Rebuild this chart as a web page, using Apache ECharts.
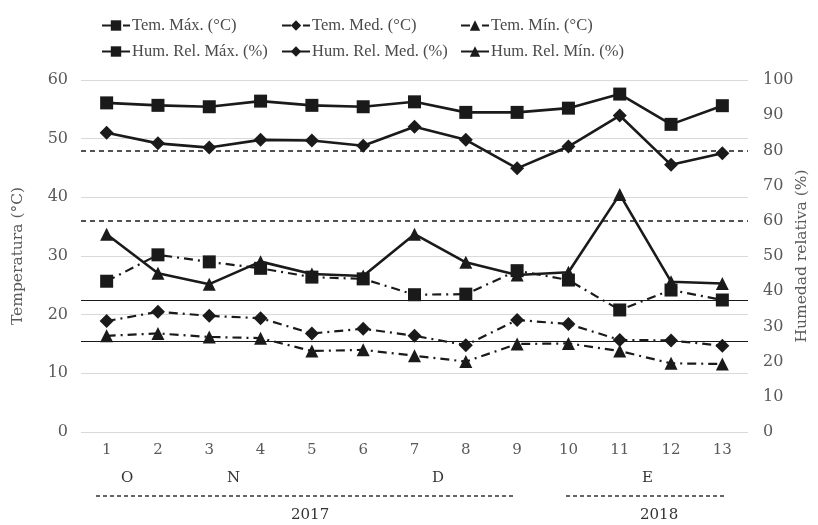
<!DOCTYPE html>
<html>
<head>
<meta charset="utf-8">
<script src="https://cdn.jsdelivr.net/npm/echarts@6/dist/echarts.min.js"></script>
<style>html,body{margin:0;padding:0;background:#fff}#c{width:818px;height:525px}</style>
</head>
<body>
<div id="c"></div>
<script>
const categories = ['1','2','3','4','5','6','7','8','9','10','11','12','13'];
const temMax = [25.7,30.2,29.0,27.9,26.4,26.1,23.4,23.5,27.5,25.9,20.8,24.2,22.5];
const temMed = [18.9,20.5,19.8,19.4,16.8,17.6,16.4,14.8,19.1,18.4,15.7,15.6,14.7];
const temMin = [16.4,16.8,16.2,16.0,13.8,14.0,13.0,12.0,15.0,15.1,13.8,11.7,11.6];
const humMax = [93.5,92.8,92.4,94.0,92.8,92.4,93.8,90.8,90.8,92.0,96.0,87.4,92.7];
const humMed = [85.0,82.0,80.8,83.0,82.8,81.3,86.7,83.0,74.9,81.1,89.9,75.9,79.2];
const humMin = [56.2,45.1,42.0,48.4,44.9,44.3,56.2,48.2,44.6,45.4,67.5,42.7,42.2];
const tempThresholds = [22.4, 15.5];
const humThresholds = [80, 60];
const seriesNames = ['Tem. Máx. (°C)','Tem. Med. (°C)','Tem. Mín. (°C)','Hum. Rel. Máx. (%)','Hum. Rel. Med. (%)','Hum. Rel. Mín. (%)'];
const monthLabels = ['O','N','D','E'];
const yearLabels = ['2017','2018'];

const SERIF = "'DejaVu Serif', serif";
const LSERIF = "'Liberation Serif', serif";
const INK = '#1a1a1a';
const dashDot = [9,5,2,5];

function mk(name, data, yIdx, symbol, size, dashed) {
  return {
    name, type: 'line', data, yAxisIndex: yIdx,
    symbol, symbolSize: size,
    lineStyle: { color: INK, width: dashed ? 2.2 : 2.6, type: dashed ? dashDot : 'solid' },
    itemStyle: { color: INK },
    animation: false
  };
}

const series = [
  mk(seriesNames[0], temMax, 0, 'rect', 13, true),
  mk(seriesNames[1], temMed, 0, 'diamond', 14, true),
  mk(seriesNames[2], temMin, 0, 'triangle', 13, true),
  mk(seriesNames[3], humMax, 1, 'rect', 13, false),
  mk(seriesNames[4], humMed, 1, 'diamond', 14, false),
  mk(seriesNames[5], humMin, 1, 'triangle', 13, false)
];
series[0].markLine = {
  silent: true, symbol: 'none', label: { show: false }, animation: false,
  lineStyle: { color: INK, width: 1.2, type: 'solid' },
  data: tempThresholds.map(v => ({ yAxis: v }))
};
series[3].markLine = {
  silent: true, symbol: 'none', label: { show: false }, animation: false,
  lineStyle: { color: INK, width: 1.5, type: [5,4] },
  data: humThresholds.map(v => ({ yAxis: v }))
};

const legendPos = [[96,12],[276,12],[455,12],[96,38],[276,38],[455,38]];
const legends = seriesNames.map((n, i) => ({
  data: [n], left: legendPos[i][0], top: legendPos[i][1],
  itemWidth: 28, itemHeight: 13, itemGap: 4,
  textStyle: { fontFamily: LSERIF, fontSize: 16.5, color: '#4a4a4a', padding: [0,0,0,-3] }
}));

const chart = echarts.init(document.getElementById('c'));
chart.setOption({
  backgroundColor: '#fff',
  animation: false,
  legend: legends,
  grid: { left: 81, right: 70, top: 80, bottom: 93, containLabel: false, outerBoundsMode: 'none' },
  xAxis: {
    type: 'category', data: categories, boundaryGap: true,
    axisLine: { show: false }, axisTick: { show: false },
    axisLabel: { fontFamily: SERIF, fontSize: 15, color: '#595959', margin: 11 }
  },
  yAxis: [
    {
      type: 'value', min: 0, max: 60, interval: 10,
      name: 'Temperatura (°C)', nameLocation: 'middle', nameGap: 55, nameRotate: 90,
      nameMoveOverlap: false,
      nameTextStyle: { fontFamily: SERIF, fontSize: 15.5, color: '#595959' },
      axisLine: { show: false }, axisTick: { show: false },
      axisLabel: { fontFamily: SERIF, fontSize: 16, color: '#595959', margin: 13 },
      splitLine: { lineStyle: { color: '#d9d9d9', width: 1.2 } }
    },
    {
      type: 'value', min: 0, max: 100, interval: 10,
      name: 'Humedad relativa (%)', nameLocation: 'middle', nameGap: 46, nameRotate: 90,
      nameMoveOverlap: false,
      nameTextStyle: { fontFamily: SERIF, fontSize: 15.5, color: '#595959' },
      axisLine: { show: false }, axisTick: { show: false },
      axisLabel: { fontFamily: SERIF, fontSize: 16, color: '#595959', margin: 15 },
      splitLine: { show: false }
    }
  ],
  series,
  graphic: [
    { type: 'text', left: 121, top: 471, style: { text: monthLabels[0], font: "15px 'DejaVu Serif', serif", fill: '#333' } },
    { type: 'text', left: 227, top: 471, style: { text: monthLabels[1], font: "15px 'DejaVu Serif', serif", fill: '#333' } },
    { type: 'text', left: 432, top: 471, style: { text: monthLabels[2], font: "15px 'DejaVu Serif', serif", fill: '#333' } },
    { type: 'text', left: 642, top: 471, style: { text: monthLabels[3], font: "15px 'DejaVu Serif', serif", fill: '#333' } },
    { type: 'line', shape: { x1: 96, y1: 496, x2: 515, y2: 496 }, style: { stroke: '#333', lineWidth: 1.5, lineDash: [4,3] } },
    { type: 'line', shape: { x1: 566, y1: 496, x2: 727, y2: 496 }, style: { stroke: '#333', lineWidth: 1.5, lineDash: [4,3] } },
    { type: 'text', left: 291, top: 508, style: { text: yearLabels[0], font: "15px 'DejaVu Serif', serif", fill: '#333' } },
    { type: 'text', left: 640, top: 508, style: { text: yearLabels[1], font: "15px 'DejaVu Serif', serif", fill: '#333' } }
  ]
});
</script>
</body>
</html>
